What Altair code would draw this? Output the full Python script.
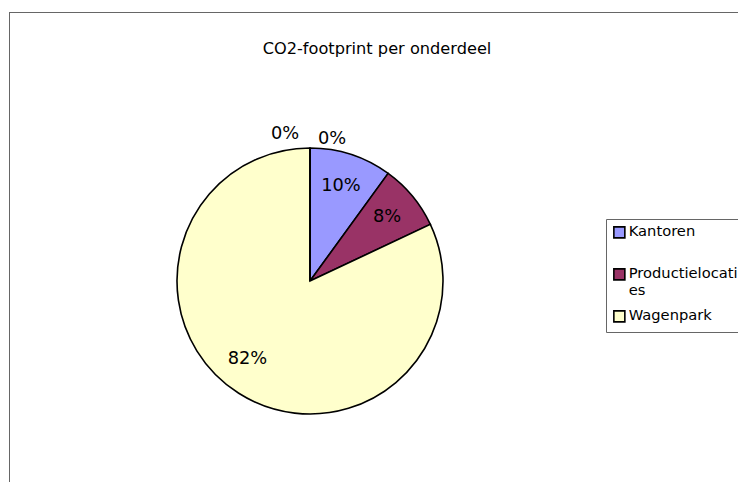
import altair as alt
import pandas as pd

# ---- data ----
categories = ["Kantoren", "Productielocaties", "Wagenpark", "Overig 1", "Overig 2"]
shares = [10, 8, 82, 0, 0]
labels = ["10%", "8%", "82%", "0%", "0%"]
order = [1, 2, 3, 4, 5]
legend_items = ["Kantoren", "Productielocaties", "Wagenpark"]
colors = ["#9999FF", "#993366", "#FFFFCC", "#FFFFFF", "#FFFFFF"]
title_text = "CO2-footprint per onderdeel"

df = pd.DataFrame({
    "onderdeel": categories,
    "aandeel": shares,
    "label": labels,
    "volgorde": order,
})

FONT = "DejaVu Sans"
W, H = 729, 470
CX, CY = 301, 269
R = 133

base = alt.Chart(df).encode(
    theta=alt.Theta("aandeel:Q", stack=True),
    order=alt.Order("volgorde:Q"),
)

pie = base.mark_arc(
    outerRadius=R, stroke="black", strokeWidth=1.6
).encode(
    color=alt.Color(
        "onderdeel:N",
        scale=alt.Scale(domain=categories, range=colors),
        legend=alt.Legend(
            title=None,
            values=legend_items,
            orient="none",
            legendX=597,
            legendY=207,
            symbolType="square",
            symbolSize=121,
            symbolStrokeColor="black",
            symbolStrokeWidth=1.6,
            labelFont=FONT,
            labelFontSize=14.7,
            labelColor="black",
            labelLimit=400,
            labelOffset=2,
            labelExpr=(
                "datum.label == 'Productielocaties' ? ['Productielocati', 'es'] : "
                "(datum.label == 'Kantoren' ? ['Kantoren', ' '] : datum.label)"
            ),
            fillColor="white",
            strokeColor="#666666",
            padding=6,
            rowPadding=9,
        ),
    ),
    x=alt.value(CX),
    y=alt.value(CY),
)


def label_layer(expr, radius, dx=0, dy=0):
    return base.transform_calculate(t=expr).mark_text(
        radius=radius, font=FONT, fontSize=17.8, color="black", dx=dx, dy=dy
    ).encode(
        text="t:N",
        detail="onderdeel:N",
        x=alt.value(CX),
        y=alt.value(CY),
    )


small_labels = label_layer("datum.aandeel > 0 && datum.aandeel < 50 ? datum.label : ''", 100)
big_label = label_layer("datum.aandeel >= 50 ? datum.label : ''", 100, dx=-9, dy=-6)
zero_left = label_layer("datum.onderdeel == 'Overig 1' ? datum.label : ''", 147, dx=-25)
zero_right = label_layer("datum.onderdeel == 'Overig 2' ? datum.label : ''", 147, dx=22, dy=5)

frame_data = alt.Data(values=[{"k": 0}])
left_border = alt.Chart(frame_data).mark_rule(color="#666666", strokeWidth=1).encode(
    x=alt.value(0.5), y=alt.value(0), y2=alt.value(H)
)
top_border = alt.Chart(frame_data).mark_rule(color="#666666", strokeWidth=1).encode(
    x=alt.value(0), x2=alt.value(W), y=alt.value(0.5)
)

chart = alt.layer(
    left_border, top_border, pie, small_labels, big_label, zero_left, zero_right
).properties(
    width=W,
    height=H,
    autosize=alt.AutoSizeParams(type="none"),
    padding={"left": 1, "top": 4, "right": 0, "bottom": 0},
    title=alt.Title(
        title_text, font=FONT, fontSize=16.2, fontWeight="normal", color="black",
        anchor="middle", frame="group", offset=-46, dx=3.5,
    ),
).configure_view(stroke="transparent", strokeWidth=0).configure(background="white")

chart.save("out.html", embed_options={"renderer": "svg", "actions": False})
